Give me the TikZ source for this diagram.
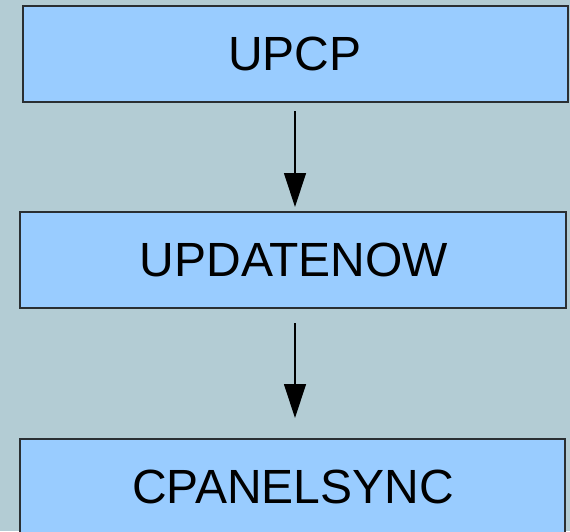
\documentclass[tikz,border=0pt]{standalone}
\usepackage{fontspec}
\setmainfont{Liberation Sans}
\usetikzlibrary{arrows.meta}
\definecolor{bgc}{HTML}{B3CCD4}
\definecolor{boxc}{HTML}{99CCFF}
\definecolor{edgec}{HTML}{2A2F33}
\begin{document}
\begin{tikzpicture}[x=1pt,y=1pt,
  boxstyle/.style={draw=edgec,line width=1.6pt,fill=boxc},
  lbl/.style={font=\fontsize{48}{50}\selectfont,text=black},
  conn/.style={line width=1.2pt,-{Triangle[width=22pt,length=34pt]}}]
\fill[bgc] (0,0) rectangle (570,-531);
\useasboundingbox (0,0) rectangle (570,-531);
\draw[boxstyle] (23,-6) rectangle (568,-102);
\node[lbl] (a) at (295,-54) {UPCP};
\draw[boxstyle] (20,-212) rectangle (566,-308);
\node[lbl] (b) at (294,-260) {UPDATENOW};
\draw[boxstyle] (20,-439) rectangle (565,-540);
\node[lbl] (c) at (293,-487) {CPANELSYNC};
\coordinate (a1) at (295,-111);
\coordinate (a2) at (295,-207);
\coordinate (b1) at (295,-323);
\coordinate (b2) at (295,-418);
\draw[conn] (a1) -- (a2);
\draw[conn] (b1) -- (b2);
\end{tikzpicture}
\end{document}
